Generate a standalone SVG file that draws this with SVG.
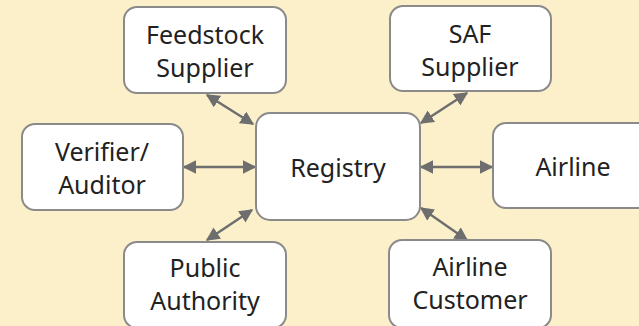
<svg xmlns="http://www.w3.org/2000/svg" width="639" height="326" viewBox="0 0 639 326">
<defs>
<style>
.n rect{fill:#fff;stroke:#8a8a8a;stroke-width:2}
.n text{font-family:"Noto Sans","Open Sans",sans-serif;font-size:25px;fill:#222;text-anchor:middle}
.c line{stroke:#6e6e6e;stroke-width:2.5;marker-start:url(#a);marker-end:url(#a)}
</style>
<marker id="a" viewBox="0 0 10 10" refX="9" refY="5" markerWidth="5.5" markerHeight="5.5" orient="auto-start-reverse" markerUnits="strokeWidth">
<path d="M0,0 L10,5 L0,10 z" fill="#6e6e6e"/>
</marker>
</defs>
<rect width="639" height="326" fill="#fcf0ca"/>
<g class="c">
<line x1="207" y1="95" x2="253" y2="124"/>
<line x1="467" y1="93" x2="421" y2="123"/>
<line x1="184" y1="167" x2="255" y2="167"/>
<line x1="421" y1="167" x2="492" y2="167"/>
<line x1="252" y1="210" x2="207" y2="240"/>
<line x1="421" y1="208" x2="467" y2="240"/>
</g>
<g id="feedstock" class="n"><rect x="124" y="7" width="162" height="86" rx="13"/><text x="205" y="44">Feedstock</text><text x="205" y="77">Supplier</text></g>
<g id="saf" class="n"><rect x="390" y="6" width="161" height="85" rx="13"/><text x="470" y="43">SAF</text><text x="470" y="76">Supplier</text></g>
<g id="verifier" class="n"><rect x="22" y="124" width="161" height="86" rx="13"/><text x="102" y="161">Verifier/</text><text x="102" y="194">Auditor</text></g>
<g id="registry" class="n"><rect x="256" y="113" width="164" height="107" rx="14"/><text x="338" y="177">Registry</text></g>
<g id="airline" class="n"><rect x="493" y="123" width="162" height="85" rx="13"/><text x="573" y="176">Airline</text></g>
<g id="public" class="n"><rect x="124" y="242" width="162" height="86" rx="13"/><text x="205" y="277">Public</text><text x="205" y="310">Authority</text></g>
<g id="customer" class="n"><rect x="389" y="240" width="162" height="88" rx="13"/><text x="470" y="276">Airline</text><text x="470" y="309">Customer</text></g>
</svg>
